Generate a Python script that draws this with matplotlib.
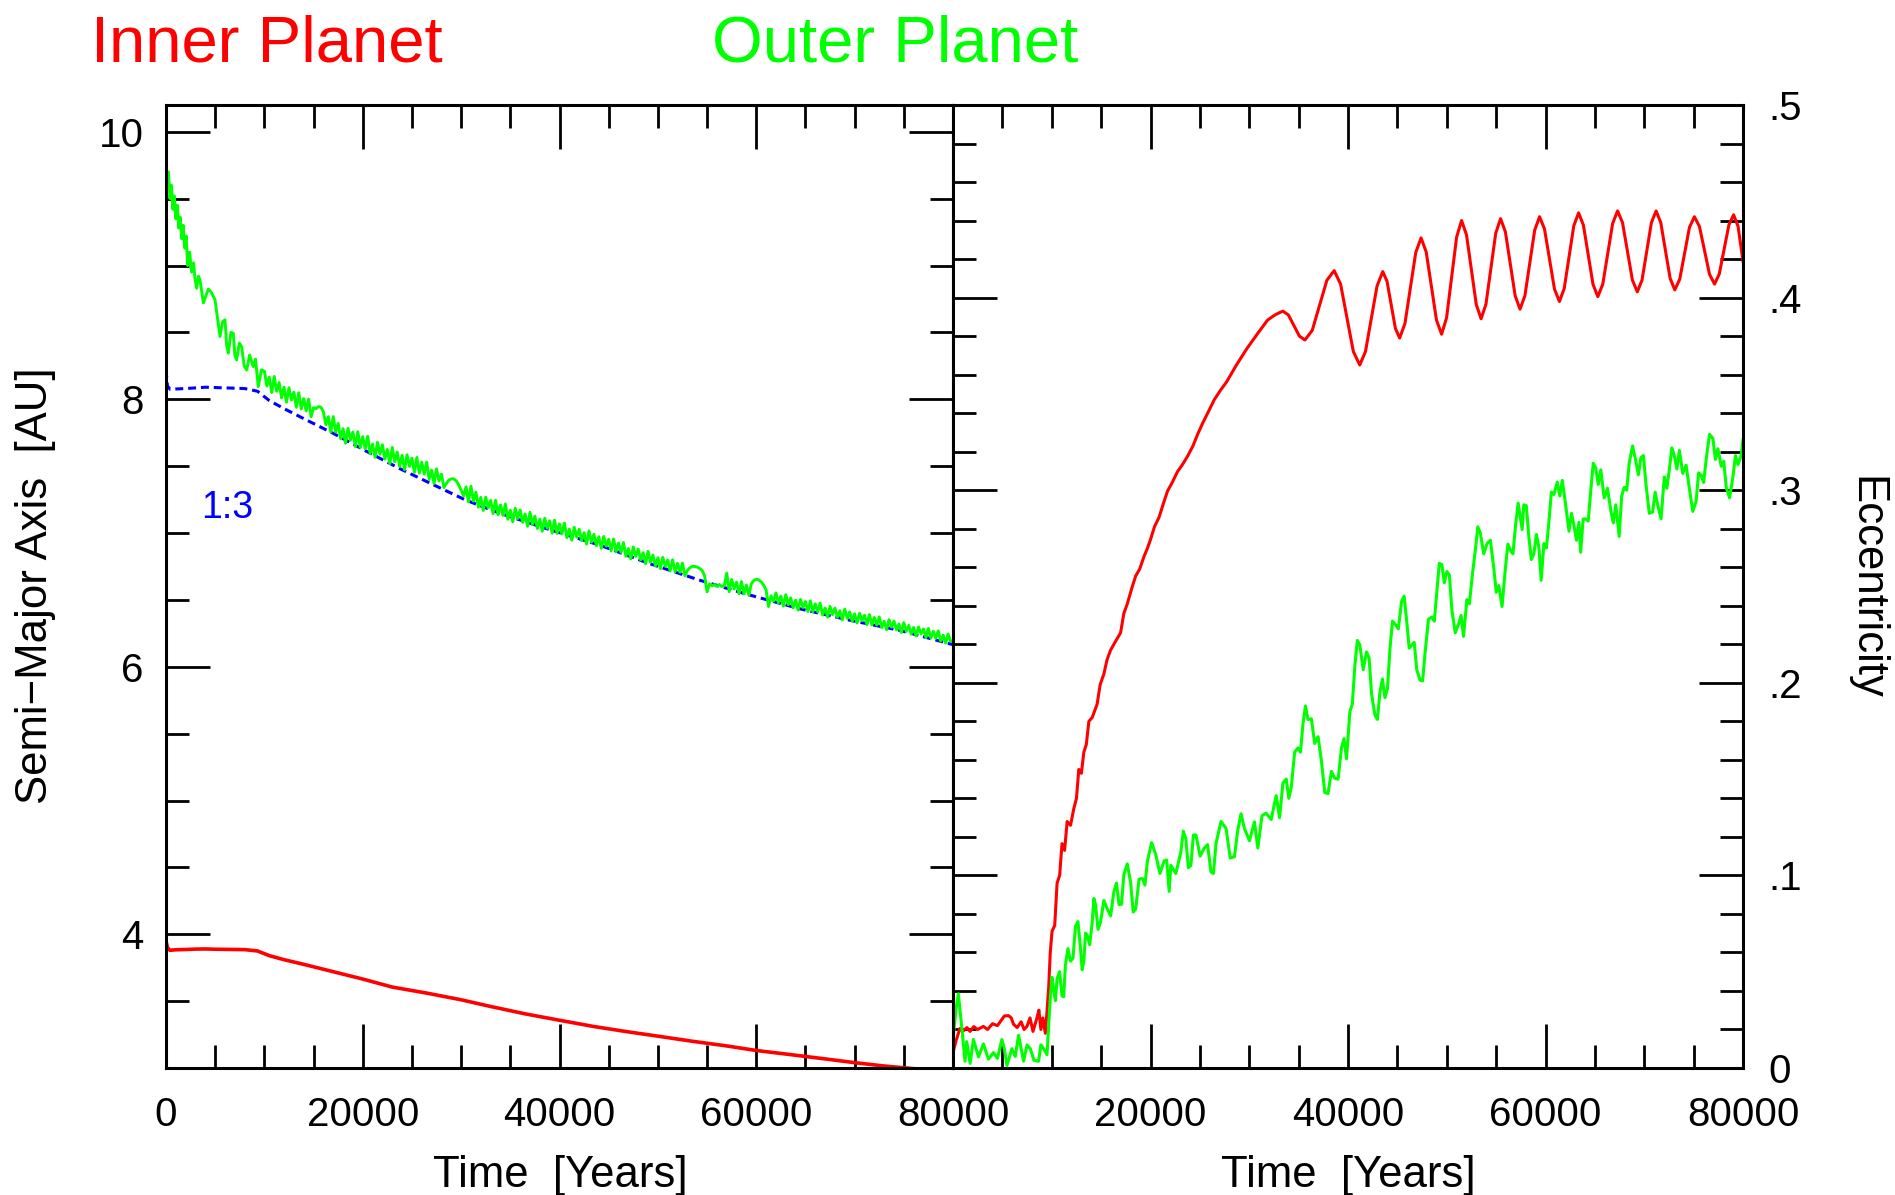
import numpy as np
import matplotlib.pyplot as plt
from matplotlib.ticker import MultipleLocator, FuncFormatter

plt.rcParams['font.family'] = ['Liberation Sans', 'DejaVu Sans']

# ---- semi-major axis [AU] vs time [yr] ----
inner_a_t = [0, 150, 400, 1000, 2000, 3000, 4000, 5000, 6000, 7000, 8000, 9300,
             10500, 12000, 14000, 17000, 20000, 23000, 26500, 30000, 33000, 36500,
             40000, 43500, 47000, 50000, 53500, 57000, 60000, 63500, 67000, 70000,
             73000, 76000, 78000, 80000]
inner_a = [3.95, 3.90, 3.88, 3.884, 3.886, 3.889, 3.89, 3.888, 3.887, 3.886, 3.885, 3.875,
           3.84, 3.81, 3.775, 3.72, 3.665, 3.605, 3.56, 3.51, 3.46, 3.405,
           3.357, 3.31, 3.27, 3.238, 3.20, 3.165, 3.131, 3.10, 3.068, 3.04,
           3.015, 2.995, 2.98, 2.965]

# outer planet, early fast migration
outer_a_t0 = [0, 100, 250, 400, 550, 700, 850, 1000, 1150, 1300, 1450, 1600, 1750,
              1900, 2050, 2200, 2400, 2600, 2800, 2950, 3120, 3300, 3460, 3800, 4300,
              4600, 4980, 5250, 5490, 5750, 6000, 6170, 6340, 6600, 6840, 7000, 7180,
              7450, 7690, 7950, 8200, 8500, 8870, 9100, 9380, 9700]
outer_a0 = [9.80, 9.62, 9.70, 9.50, 9.60, 9.42, 9.52, 9.35, 9.45, 9.28, 9.36, 9.20, 9.30,
            9.13, 9.22, 9.00, 9.10, 8.95, 9.02, 8.90, 8.83, 8.92, 8.89, 8.72, 8.824,
            8.80, 8.744, 8.60, 8.469, 8.58, 8.594, 8.40, 8.345, 8.50, 8.494, 8.33, 8.294,
            8.42, 8.394, 8.25, 8.219, 8.33, 8.244, 8.30, 8.094, 8.22]

# outer planet after capture in 1:3, every 250 yr from 10000 to 80000
outer_a_step = 250
outer_a1 = [
    8.210, 8.100, 8.165, 8.050, 8.170, 8.060, 8.125, 8.010,   # 10000
    8.090, 7.978, 8.086, 7.994, 8.052, 7.941, 8.049, 7.927,   # 12000
    8.005, 7.913, 8.001, 7.869, 7.937, 7.930, 7.945, 7.940,   # 14000
    7.905, 7.810, 7.870, 7.755, 7.870, 7.755, 7.820, 7.705,   # 16000
    7.780, 7.671, 7.783, 7.694, 7.755, 7.646, 7.758, 7.639,   # 18000
    7.720, 7.631, 7.723, 7.594, 7.665, 7.566, 7.678, 7.589,   # 20000
    7.660, 7.553, 7.625, 7.518, 7.640, 7.533, 7.605, 7.498,   # 22000
    7.580, 7.473, 7.585, 7.498, 7.560, 7.453, 7.565, 7.448,   # 24000
    7.530, 7.440, 7.530, 7.400, 7.470, 7.370, 7.480, 7.390,   # 26000
    7.440, 7.340, 7.370, 7.395, 7.405, 7.405, 7.390, 7.360,   # 28000
    7.320, 7.278, 7.345, 7.233, 7.350, 7.238, 7.305, 7.193,   # 30000
    7.266, 7.168, 7.268, 7.188, 7.243, 7.145, 7.244, 7.137,   # 32000
    7.210, 7.132, 7.217, 7.103, 7.170, 7.083, 7.185, 7.108,   # 34000
    7.171, 7.080, 7.142, 7.050, 7.155, 7.063, 7.126, 7.033,   # 36000
    7.104, 7.013, 7.110, 7.036, 7.091, 6.999, 7.096, 6.997,   # 38000
    7.068, 6.993, 7.074, 6.965, 7.029, 6.946, 7.042, 6.969,   # 40000
    7.028, 6.943, 7.002, 6.917, 7.016, 6.931, 6.990, 6.905,   # 42000
    6.972, 6.885, 6.974, 6.903, 6.953, 6.866, 6.955, 6.860,   # 44000
    6.925, 6.855, 6.929, 6.826, 6.884, 6.806, 6.896, 6.825,   # 46000
    6.880, 6.799, 6.853, 6.771, 6.863, 6.781, 6.835, 6.754,   # 48000
    6.815, 6.734, 6.818, 6.751, 6.798, 6.716, 6.800, 6.711,   # 50000
    6.773, 6.706, 6.775, 6.679, 6.720, 6.740, 6.750, 6.750,   # 52000
    6.745, 6.735, 6.720, 6.680, 6.560, 6.620, 6.605, 6.615,   # 54000
    6.600, 6.615, 6.600, 6.605, 6.700, 6.561, 6.652, 6.582,   # 56000
    6.633, 6.547, 6.637, 6.544, 6.610, 6.535, 6.620, 6.645,   # 58000
    6.655, 6.650, 6.635, 6.610, 6.575, 6.450, 6.530, 6.490,   # 60000
    6.552, 6.477, 6.528, 6.453, 6.539, 6.464, 6.515, 6.440,   # 62000
    6.498, 6.424, 6.503, 6.443, 6.488, 6.413, 6.493, 6.411,   # 64000
    6.470, 6.410, 6.475, 6.387, 6.439, 6.371, 6.451, 6.390,   # 66000
    6.439, 6.370, 6.419, 6.350, 6.431, 6.362, 6.410, 6.341,   # 68000
    6.396, 6.327, 6.400, 6.344, 6.385, 6.316, 6.390, 6.313,   # 70000
    6.368, 6.312, 6.373, 6.292, 6.340, 6.277, 6.352, 6.296,   # 72000
    6.341, 6.277, 6.320, 6.256, 6.330, 6.265, 6.309, 6.244,   # 74000
    6.294, 6.230, 6.297, 6.245, 6.283, 6.218, 6.286, 6.215,   # 76000
    6.265, 6.213, 6.268, 6.192, 6.236, 6.177, 6.245, 6.192,   # 78000
    6.190,                                                    # 80000
]
outer_a_t1 = [10000 + outer_a_step * i for i in range(len(outer_a1))]

# 1:3 mean-motion resonance location
res13_t = [0, 150, 400, 2000, 4000, 6000, 8000, 9300, 10500, 12000, 14000, 17000,
           20400, 23800, 27200, 30500, 34000, 39000, 44100, 49000, 54300, 59000,
           64400, 69500, 74600, 80000]
res13_a = [8.22, 8.10, 8.075, 8.08, 8.09, 8.085, 8.08, 8.06, 7.99, 7.93, 7.855, 7.745,
           7.61, 7.48, 7.36, 7.245, 7.146, 7.025, 6.909, 6.775, 6.646, 6.543,
           6.434, 6.348, 6.272, 6.165]

# ---- eccentricity vs time [yr] ----
inner_e_t = [0, 300, 700, 1000, 1400, 1730, 2100, 2500, 3080, 3500, 4000, 4500, 4780,
             5200, 5620, 5900, 6130, 6500, 6900, 7200, 7490, 7800, 8100, 8500, 8700,
             8900, 9100, 9350, 9500, 9690, 9850, 10030, 10300, 10540, 10800, 11040,
             11300, 11560, 11900, 12230, 12500, 12740, 13000, 13250, 13500, 13760,
             14100, 14600, 14900, 15280, 15600, 15960, 16400, 16970, 17300, 17650,
             18100, 18500, 18900, 19350, 19700, 20020, 20400, 20870, 21300, 21720,
             22200, 22740, 23200, 23750, 24300, 24770, 25300, 25790, 26460, 27100,
             27700, 28700, 29770, 30800, 31850, 32600, 33400,
             33960, 34520, 35080, 35640, 36380, 37120, 37860, 38600,
             39250, 39900, 40540, 41190, 41770, 42360, 42940, 43520,
             43950, 44380, 44800, 45230, 45770, 46320, 46860, 47400,
             47920, 48440, 48960, 49480, 49985, 50490, 51000, 51500,
             52000, 52490, 52990, 53480, 53970, 54465, 54960, 55450,
             55940, 56435, 56930, 57420, 57915, 58410, 58905, 59400,
             59900, 60405, 60910, 61410, 61895, 62380, 62865, 63350,
             63840, 64325, 64810, 65300, 65800, 66300, 66800, 67300,
             67800, 68300, 68800, 69300, 69775, 70250, 70725, 71200,
             71670, 72145, 72620, 73090, 73590, 74085, 74580, 75080,
             75590, 76100, 76610, 77120, 77600, 78085, 78570, 79050,
             79500, 80000]
inner_e = [0.008, 0.014, 0.0205, 0.019, 0.021, 0.019, 0.0215, 0.020, 0.0216, 0.020, 0.023, 0.022, 0.024,
           0.027, 0.0272, 0.026, 0.0227, 0.021, 0.024, 0.020, 0.0216, 0.026, 0.019, 0.026, 0.030,
           0.020, 0.026, 0.018, 0.028, 0.042, 0.060, 0.071, 0.074, 0.096, 0.100, 0.1165,
           0.113, 0.128, 0.126, 0.1346, 0.140, 0.155, 0.153, 0.164, 0.168, 0.180,
           0.182, 0.189, 0.199, 0.2046, 0.212, 0.217, 0.221, 0.226, 0.236, 0.241,
           0.249, 0.2555, 0.259, 0.2657, 0.270, 0.2747, 0.281, 0.286, 0.293, 0.2995,
           0.304, 0.3097, 0.313, 0.3176, 0.323, 0.329, 0.335, 0.340, 0.347, 0.352,
           0.3562, 0.365, 0.3736, 0.381, 0.3883, 0.391, 0.393,
           0.391, 0.3855, 0.380, 0.378, 0.383, 0.396, 0.409, 0.414,
           0.407, 0.3895, 0.372, 0.365, 0.372, 0.389, 0.406, 0.4135,
           0.4085, 0.396, 0.384, 0.379, 0.3866, 0.405, 0.4234, 0.431,
           0.4237, 0.406, 0.3883, 0.381, 0.3896, 0.4105, 0.4314, 0.440,
           0.4326, 0.4145, 0.3964, 0.389, 0.3966, 0.415, 0.4334, 0.441,
           0.4341, 0.4175, 0.4009, 0.394, 0.401, 0.418, 0.435, 0.442,
           0.4356, 0.420, 0.4044, 0.398, 0.4047, 0.421, 0.4373, 0.444,
           0.4376, 0.4223, 0.4069, 0.4005, 0.407, 0.4228, 0.4385, 0.445,
           0.4389, 0.424, 0.4091, 0.403, 0.4091, 0.424, 0.4389, 0.445,
           0.439, 0.4245, 0.410, 0.404, 0.4095, 0.423, 0.4365, 0.442,
           0.4369, 0.4245, 0.4121, 0.407, 0.4123, 0.425, 0.4377, 0.443,
           0.437, 0.419]

# outer planet eccentricity as (time, e) samples
outer_e_pts = [
    (0, 0.0148), (300, 0.030), (540, 0.0385), (880, 0.0216), (1220, 0.0035),
    (1390, 0.0137), (1730, 0.0024), (2070, 0.0148), (2575, 0.0058), (3080, 0.0125),
    (3590, 0.0046), (4100, 0.008), (4500, 0.005), (4950, 0.0148), (5200, 0.010),
    (5460, 0.0013), (5960, 0.010), (6300, 0.006), (6640, 0.017), (7150, 0.0035),
    (7500, 0.012), (7830, 0.010), (8200, 0.004), (8670, 0.0035), (8900, 0.012),
    (9180, 0.010), (9520, 0.0069), (9860, 0.0374), (10030, 0.047), (10200, 0.040),
    (10370, 0.035), (10540, 0.0464), (10790, 0.050), (11040, 0.0374), (11210, 0.037),
    (11380, 0.0532), (11640, 0.062), (11900, 0.0555), (12150, 0.057), (12400, 0.0735),
    (12655, 0.076), (12910, 0.0622), (13080, 0.051), (13250, 0.0555), (13420, 0.070),
    (13590, 0.069), (13845, 0.064), (14100, 0.0758), (14265, 0.088), (14430, 0.0849),
    (14685, 0.072), (14940, 0.0758), (15280, 0.087), (15620, 0.0826), (15960, 0.079),
    (16300, 0.0917), (16555, 0.096), (16810, 0.0849), (17060, 0.085), (17310, 0.1007),
    (17650, 0.106), (17990, 0.0962), (18245, 0.081), (18500, 0.0826), (18840, 0.098),
    (19180, 0.0984), (19435, 0.095), (19690, 0.1075), (20110, 0.117), (20530, 0.1108),
    (20955, 0.101), (21380, 0.1075), (21635, 0.108), (21890, 0.0917), (22060, 0.1052),
    (22565, 0.101), (23070, 0.112), (23325, 0.123), (23580, 0.1188), (23835, 0.104),
    (24090, 0.1052), (24345, 0.121), (24600, 0.121), (25025, 0.110), (25450, 0.1142),
    (25785, 0.116), (26120, 0.1018), (26375, 0.101), (26630, 0.1165), (27140, 0.128),
    (27650, 0.1244), (28075, 0.109), (28500, 0.1097), (28830, 0.1233), (29170, 0.132),
    (29510, 0.1244), (30020, 0.118), (30530, 0.1278), (30870, 0.1142), (31290, 0.131),
    (31710, 0.1323), (32220, 0.129), (32730, 0.1414), (33070, 0.130), (33410, 0.148),
    (33750, 0.150), (34005, 0.140), (34260, 0.1459), (34595, 0.164), (34930, 0.1662),
    (35185, 0.164), (35440, 0.1786), (35695, 0.188), (35950, 0.1809), (36290, 0.1813),
    (36630, 0.1685), (36970, 0.172), (37310, 0.1594), (37645, 0.143), (37980, 0.1425),
    (38320, 0.154), (38660, 0.1504), (39000, 0.150), (39340, 0.1662), (39595, 0.171),
    (39850, 0.1606), (40190, 0.185), (40440, 0.189), (40690, 0.2086), (40945, 0.222),
    (41200, 0.2196), (41540, 0.2068), (41880, 0.216), (42135, 0.213), (42390, 0.194),
    (42730, 0.1832), (42980, 0.181), (43230, 0.195), (43485, 0.202), (43740, 0.1923),
    (43995, 0.197), (44250, 0.2177), (44505, 0.232), (44760, 0.2305), (45095, 0.228),
    (45430, 0.2423), (45685, 0.245), (45940, 0.2323), (46195, 0.218), (46450, 0.2196),
    (46705, 0.221), (46960, 0.2068), (47300, 0.2014), (47555, 0.201), (47810, 0.2159),
    (48150, 0.233), (48490, 0.2341), (48740, 0.232), (48990, 0.2469), (49245, 0.262),
    (49500, 0.2614), (49755, 0.252), (50010, 0.2578), (50265, 0.256), (50520, 0.2378),
    (50860, 0.226), (51200, 0.2305), (51450, 0.235), (51700, 0.2241), (52040, 0.2432),
    (52295, 0.241), (52550, 0.2541), (52890, 0.2687), (53145, 0.281), (53400, 0.2778),
    (53740, 0.267), (54080, 0.2723), (54420, 0.274), (54760, 0.2596), (55015, 0.247),
    (55270, 0.2505), (55600, 0.2396), (55940, 0.2596), (56195, 0.272), (56450, 0.2687),
    (56705, 0.267), (56960, 0.2814), (57230, 0.2933), (57640, 0.2796), (57800, 0.2924),
    (58055, 0.292), (58310, 0.276), (58565, 0.264), (58820, 0.2669), (59075, 0.277),
    (59330, 0.2705), (59560, 0.2532), (59840, 0.2723), (60090, 0.270), (60340, 0.2833),
    (60595, 0.299), (60850, 0.2978), (61190, 0.3042), (61445, 0.297), (61700, 0.3051),
    (62040, 0.2924), (62380, 0.2787), (62635, 0.288), (62890, 0.2814), (63140, 0.274),
    (63390, 0.2833), (63560, 0.2678), (63815, 0.285), (64070, 0.2851), (64325, 0.284),
    (64580, 0.2996), (64835, 0.314), (65090, 0.3115), (65345, 0.303), (65600, 0.3106),
    (65940, 0.296), (66275, 0.301), (66610, 0.2896), (66865, 0.283), (67120, 0.2924),
    (67460, 0.276), (67715, 0.297), (67970, 0.3015), (68225, 0.300), (68480, 0.3142),
    (68815, 0.323), (69150, 0.3151), (69405, 0.308), (69660, 0.3169), (69915, 0.318),
    (70170, 0.3033), (70510, 0.288), (70850, 0.2887), (71105, 0.299), (71360, 0.2924),
    (71700, 0.2851), (72030, 0.3069), (72285, 0.301), (72540, 0.3106), (72795, 0.322),
    (73050, 0.3178), (73305, 0.311), (73560, 0.3206), (73900, 0.3087), (74240, 0.313),
    (74580, 0.3005), (74915, 0.289), (75250, 0.2942), (75505, 0.309), (75760, 0.3078),
    (76015, 0.304), (76270, 0.316), (76610, 0.329), (76950, 0.3269), (77205, 0.316),
    (77460, 0.3215), (77800, 0.3124), (78050, 0.315), (78300, 0.3015), (78640, 0.296),
    (78980, 0.3069), (79235, 0.318), (79490, 0.3133), (79800, 0.3178), (80000, 0.326),
]
outer_e_t = [p[0] for p in outer_e_pts]
outer_e = [p[1] for p in outer_e_pts]

RED = '#ff0000'
GREEN = '#00ff00'
BLUE = '#0000ff'

fig = plt.figure(figsize=(18.95, 11.95), dpi=100)
ax1 = fig.add_axes([166 / 1895, 1 - 1068 / 1195, 787 / 1895, 963 / 1195])
ax2 = fig.add_axes([953 / 1895, 1 - 1068 / 1195, 790 / 1895, 963 / 1195])

# left: semi-major axis
ax1.plot(inner_a_t, inner_a, color=RED, lw=2.6)
ax1.plot(res13_t, res13_a, color=BLUE, lw=2.2, dashes=(2.6, 1.6))
ax1.plot(outer_a_t0 + outer_a_t1, outer_a0 + outer_a1, color=GREEN, lw=2.1)
ax1.set_xlim(0, 80000)
ax1.set_ylim(3.0, 10.2)
ax1.xaxis.set_major_locator(MultipleLocator(20000))
ax1.xaxis.set_minor_locator(MultipleLocator(5000))
ax1.yaxis.set_major_locator(MultipleLocator(2))
ax1.yaxis.set_minor_locator(MultipleLocator(0.5))
ax1.text(0.0775, 0.5815, '1:3', transform=ax1.transAxes, color=BLUE, fontsize=27,
         ha='center', va='center')

# right: eccentricity
ax2.plot(inner_e_t, inner_e, color=RED, lw=2.2)
ax2.plot(outer_e_t, outer_e, color=GREEN, lw=2.2)
ax2.set_xlim(0, 80000)
ax2.set_ylim(0, 0.5)
ax2.xaxis.set_major_locator(MultipleLocator(20000))
ax2.xaxis.set_minor_locator(MultipleLocator(5000))
ax2.yaxis.set_major_locator(MultipleLocator(0.1))
ax2.yaxis.set_minor_locator(MultipleLocator(0.02))
ax2.xaxis.set_major_formatter(FuncFormatter(lambda v, p: '' if v == 0 else '%d' % v))
ax2.yaxis.set_major_formatter(FuncFormatter(lambda v, p: '0' if abs(v) < 1e-9 else ('%.1f' % v)[1:]))

for ax in (ax1, ax2):
    for sp in ax.spines.values():
        sp.set_linewidth(2.2)
    ax.tick_params(which='both', direction='in', top=True, bottom=True,
                   left=True, right=True, width=2.0, labelsize=29, colors='black')
    ax.tick_params(which='major', length=32)
    ax.tick_params(which='minor', length=16.5)
    ax.tick_params(axis='x', pad=20)

ax1.tick_params(axis='y', pad=16)
ax2.tick_params(axis='y', labelleft=False, labelright=True, pad=18)

fig.text(91 / 1895, 1 - 62 / 1195, 'Inner Planet', color=RED, fontsize=47,
         ha='left', va='baseline')
fig.text(712 / 1895, 1 - 62 / 1195, 'Outer Planet', color=GREEN, fontsize=47,
         ha='left', va='baseline')
fig.text(36 / 1895, 1 - 586 / 1195, 'Semi\u2212Major Axis  [AU]', fontsize=31.5,
         rotation=90, ha='center', va='center')
fig.text(1866 / 1895, 1 - 588 / 1195, 'Eccentricity', fontsize=31.5,
         rotation=270, ha='center', va='center')
fig.text(560 / 1895, 1 - 1187 / 1195, 'Time  [Years]', fontsize=31.5,
         ha='center', va='baseline')
fig.text(1348 / 1895, 1 - 1187 / 1195, 'Time  [Years]', fontsize=31.5,
         ha='center', va='baseline')

fig.savefig('out.png', dpi=100)
